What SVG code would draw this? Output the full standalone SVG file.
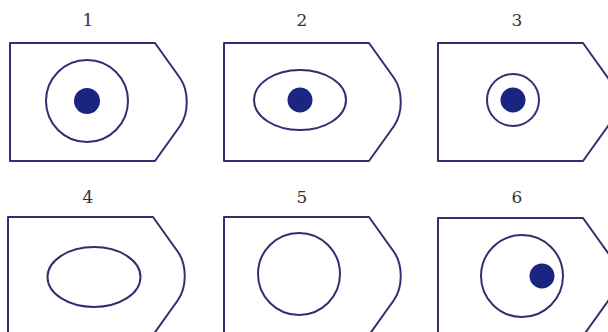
<svg xmlns="http://www.w3.org/2000/svg" width="608" height="332" viewBox="0 0 608 332">
<style>
.frame{fill:none;stroke:#2e3170;stroke-width:2;stroke-linejoin:round}
.ring{fill:none;stroke:#2e3170;stroke-width:2}
.dot{fill:#1b2480}
.lbl{font-family:"DejaVu Serif","Liberation Serif",serif;font-size:17px;fill:#333333;text-anchor:middle}
</style>
<defs>
<path id="tag" d="M0,0 H145 L170,35 C179,48 179,70 170,83 L145,118 H0 Z"/>
</defs>
<rect width="608" height="332" fill="#ffffff"/>
<g id="node1">
<text class="lbl" x="88" y="26">1</text>
<use href="#tag" class="frame" transform="translate(10,43)"/>
<circle class="ring" cx="87" cy="101" r="41"/>
<circle class="dot" cx="87" cy="101" r="13"/>
</g>
<g id="node2">
<text class="lbl" x="302" y="26">2</text>
<use href="#tag" class="frame" transform="translate(224,43)"/>
<ellipse class="ring" cx="300" cy="100" rx="46" ry="30"/>
<circle class="dot" cx="300" cy="100" r="12.5"/>
</g>
<g id="node3">
<text class="lbl" x="517" y="26">3</text>
<use href="#tag" class="frame" transform="translate(438,43)"/>
<circle class="ring" cx="513" cy="100" r="26"/>
<circle class="dot" cx="513" cy="100" r="12.5"/>
</g>
<g id="node4">
<text class="lbl" x="88" y="203">4</text>
<use href="#tag" class="frame" transform="translate(8,217)"/>
<ellipse class="ring" cx="94" cy="277" rx="46.5" ry="30"/>
</g>
<g id="node5">
<text class="lbl" x="302" y="203">5</text>
<use href="#tag" class="frame" transform="translate(224,217)"/>
<circle class="ring" cx="299" cy="274" r="41"/>
</g>
<g id="node6">
<text class="lbl" x="517" y="203">6</text>
<use href="#tag" class="frame" transform="translate(438,218)"/>
<circle class="ring" cx="522" cy="276" r="41"/>
<circle class="dot" cx="542" cy="276" r="12.5"/>
</g>
<g id="connectors"></g>
</svg>
